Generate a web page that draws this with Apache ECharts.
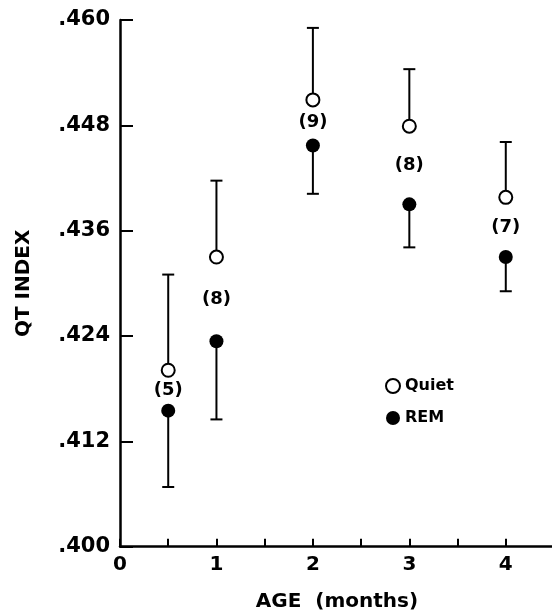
<!DOCTYPE html>
<html><head><meta charset="utf-8">
<script src="https://cdn.jsdelivr.net/npm/echarts@6/dist/echarts.min.js"></script>
<style>html,body{margin:0;padding:0;background:#fff}#c{width:552px;height:612px}</style>
</head><body><div id="c"></div>
<script>
// ---- data ----
const ages = [0.5, 1, 2, 3, 4];
const quietMean  = [0.4201, 0.4330, 0.4509, 0.4479, 0.4398];
const quietUpper = [0.4310, 0.4417, 0.4591, 0.4544, 0.4461];
const remMean    = [0.4155, 0.4234, 0.4457, 0.4390, 0.4330];
const remLower   = [0.4068, 0.4145, 0.4402, 0.4341, 0.4291];
const nLabels    = ['(5)', '(8)', '(9)', '(8)', '(7)'];
const yTickLabels = ['.400', '.412', '.424', '.436', '.448', '.460'];
const xTickLabels = ['0', '1', '2', '3', '4'];
const yBase = 0.400;

// axis is expressed in thousandths above .400 so ticks fall on multiples of 12
const toY = v => Math.round((v - yBase) * 100000) / 100;
const FONT = 'DejaVu Sans';

const quietErr = ages.map((a, i) => [a, toY(quietMean[i]), toY(quietUpper[i])]);
const remErr = ages.map((a, i) => [a, toY(remMean[i]), toY(remLower[i])]);
const labelData = ages.map((a, i) => [a, (toY(quietMean[i]) + toY(remMean[i])) / 2, nLabels[i]]);

function errRender(params, api) {
  const x = api.value(0);
  const p0 = api.coord([x, api.value(1)]);
  const p1 = api.coord([x, api.value(2)]);
  const st = { stroke: '#000', lineWidth: 2 };
  return { type: 'group', children: [
    { type: 'line', shape: { x1: p0[0], y1: p0[1], x2: p1[0], y2: p1[1] }, style: st },
    { type: 'line', shape: { x1: p1[0] - 6, y1: p1[1], x2: p1[0] + 6, y2: p1[1] }, style: st }
  ]};
}

const chart = echarts.init(document.getElementById('c'), null, { renderer: 'canvas' });
chart.setOption({
  animation: false,
  backgroundColor: '#fff',
  grid: { left: 120, top: 20, width: 434, height: 526.7, containLabel: false, outerBoundsMode: 'none' },
  legend: {
    data: ['Quiet', 'REM'], orient: 'vertical', left: 380, top: 372,
    itemWidth: 14, itemHeight: 14, itemGap: 14, selectedMode: false,
    textStyle: { fontFamily: FONT, fontSize: 16, fontWeight: 'bold', color: '#000', lineHeight: 18 }
  },
  xAxis: {
    type: 'value', min: 0, max: 4.5, interval: 0.5,
    name: 'AGE  (months)', nameLocation: 'middle', nameGap: 45,
    nameTextStyle: { fontFamily: FONT, fontSize: 20, fontWeight: 'bold', color: '#000' },
    axisLine: { show: true, onZero: false, lineStyle: { color: '#000', width: 2.5 } },
    axisTick: { show: true, inside: true, length: 8, lineStyle: { color: '#000', width: 2 } },
    axisLabel: { margin: 8, fontFamily: FONT, fontSize: 20, fontWeight: 'bold', color: '#000',
      formatter: v => (Number.isInteger(v) && v < xTickLabels.length) ? xTickLabels[v] : '' },
    splitLine: { show: false }
  },
  yAxis: {
    type: 'value', min: 0, max: 60, interval: 12,
    name: 'QT INDEX', nameLocation: 'middle', nameGap: 86,
    nameTextStyle: { fontFamily: FONT, fontSize: 20, fontWeight: 'bold', color: '#000' },
    axisLine: { show: true, onZero: false, lineStyle: { color: '#000', width: 2.5 } },
    axisTick: { show: true, inside: true, length: 13, lineStyle: { color: '#000', width: 2 } },
    axisLabel: { margin: 10, fontFamily: FONT, fontSize: 21, fontWeight: 'bold', color: '#000',
      formatter: v => yTickLabels[Math.round(v / 12)] },
    splitLine: { show: false }
  },
  series: [
    { type: 'custom', name: 'quietErr', renderItem: errRender, data: quietErr, z: 1, silent: true },
    { type: 'custom', name: 'remErr', renderItem: errRender, data: remErr, z: 1, silent: true },
    { type: 'scatter', name: 'Quiet', symbol: 'circle', symbolSize: 13, z: 3,
      itemStyle: { color: '#fff', borderColor: '#000', borderWidth: 2, opacity: 1 },
      emphasis: { disabled: true },
      data: ages.map((a, i) => [a, toY(quietMean[i])]) },
    { type: 'scatter', name: 'REM', symbol: 'circle', symbolSize: 14, z: 3,
      itemStyle: { color: '#000', borderColor: '#000', borderWidth: 0, opacity: 1 },
      emphasis: { disabled: true },
      data: ages.map((a, i) => [a, toY(remMean[i])]) },
    { type: 'custom', name: 'n', z: 4, silent: true, data: labelData,
      renderItem: (params, api) => {
        const p = api.coord([api.value(0), api.value(1)]);
        return { type: 'text', style: { x: p[0], y: p[1], text: labelData[params.dataIndex][2],
          align: 'center', verticalAlign: 'middle',
          font: 'bold 18px "DejaVu Sans"', fill: '#000' } };
      } }
  ]
});
</script></body></html>
